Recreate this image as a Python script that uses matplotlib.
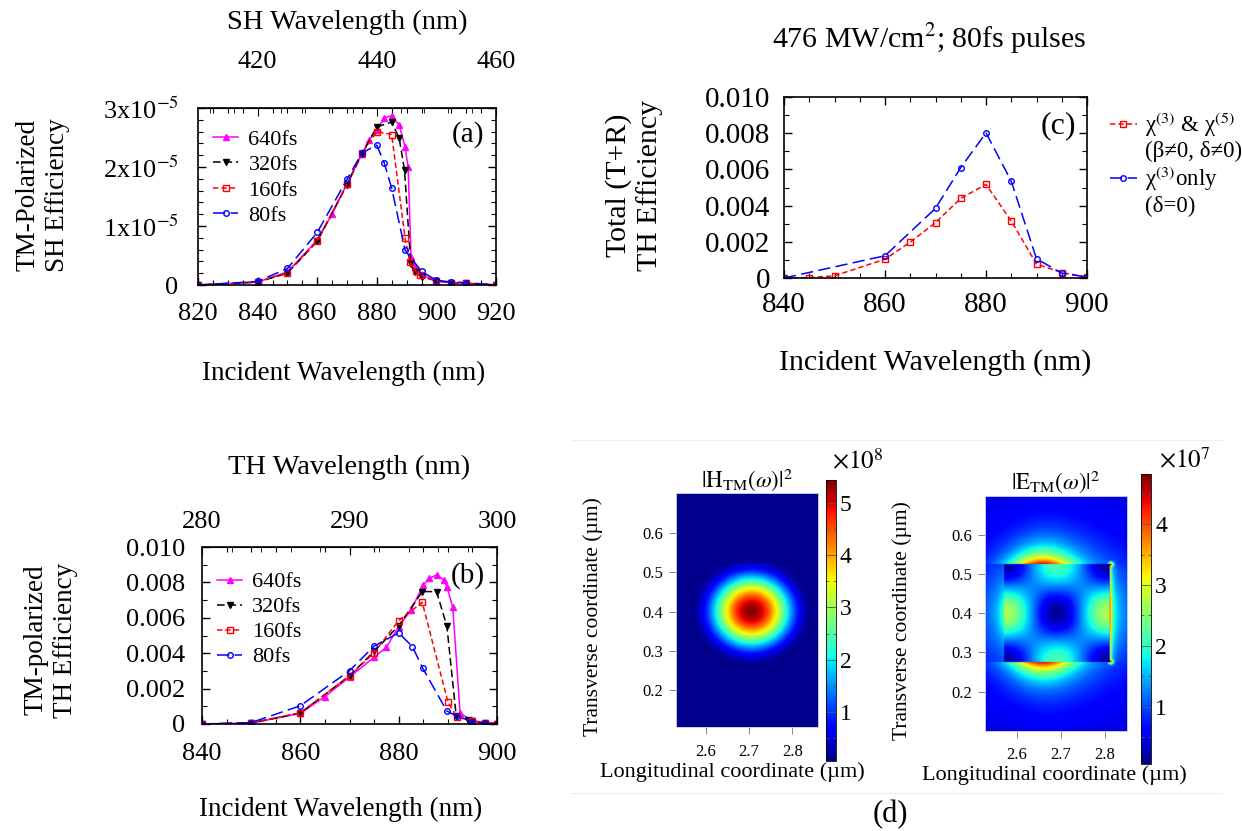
import numpy as np
import matplotlib
matplotlib.use("Agg")
import matplotlib.pyplot as plt
from matplotlib.ticker import MultipleLocator, FuncFormatter
from matplotlib.lines import Line2D

plt.rcParams['font.family'] = ['Liberation Serif', 'DejaVu Serif']
plt.rcParams['mathtext.fontset'] = 'stix'

W, H = 1242, 831

# ---------------- (a) TM-polarized SH efficiency (units of 1e-5)
sh_wl_640 = [820, 840, 850, 860, 865, 870, 875, 877.5, 880, 882.5, 885, 887.5, 889.5,
             890.5, 891.5, 892.8, 895, 900, 905, 910, 920]
sh_640 = [0.0, 0.05, 0.22, 0.76, 1.2, 1.72, 2.22, 2.46, 2.63, 2.83, 2.87, 2.71, 2.34,
          2.0, 0.48, 0.31, 0.17, 0.07, 0.04, 0.03, 0.0]
sh_wl_320 = [820, 840, 850, 860, 870, 875, 880, 885, 887.5, 889.3, 891.4, 892.8, 895,
             900, 905, 910, 920]
sh_320 = [0.0, 0.05, 0.2, 0.74, 1.7, 2.22, 2.68, 2.76, 2.49, 1.95, 0.35, 0.22, 0.14,
          0.07, 0.04, 0.03, 0.0]
sh_wl_160 = [820, 840, 850, 860, 870, 875, 880, 885, 889.5, 891.1, 893.2, 894.5, 900,
             905, 910, 920]
sh_160 = [0.0, 0.05, 0.21, 0.75, 1.71, 2.23, 2.6, 2.55, 0.79, 0.39, 0.23, 0.17, 0.07,
          0.04, 0.03, 0.0]
sh_wl_80 = [820, 840, 850, 860, 870, 875, 880, 882.5, 885, 889.5, 895, 900, 905, 910, 920]
sh_80 = [0.0, 0.06, 0.28, 0.89, 1.79, 2.24, 2.37, 2.07, 1.64, 0.59, 0.23, 0.08, 0.05,
         0.04, 0.0]

# ---------------- (b) TM-polarized TH efficiency (units of 1e-3)
th_wl_640 = [840, 850, 860, 865, 870, 875, 877.5, 880, 882.5, 885, 886.2, 887.7, 889.2,
             889.8, 891, 892.5, 895, 897.5, 900]
th_640 = [0.0, 0.05, 0.6, 1.55, 2.65, 3.77, 4.33, 5.5, 6.44, 7.85, 8.23, 8.42, 8.14,
          7.76, 6.6, 0.6, 0.2, 0.08, 0.03]
th_wl_320 = [840, 850, 860, 870, 875, 880, 884.8, 887.7, 889.8, 891.7, 894, 895, 897.5, 900]
th_320 = [0.0, 0.05, 0.62, 2.72, 4.1, 5.55, 7.48, 7.48, 5.54, 0.47, 0.2, 0.15, 0.05, 0.02]
th_wl_160 = [840, 850, 860, 870, 875, 880, 884.8, 890, 891.8, 895, 897.5, 900]
th_160 = [0.0, 0.06, 0.64, 2.71, 4.03, 5.84, 6.87, 1.26, 0.4, 0.17, 0.06, 0.02]
th_wl_80 = [840, 850, 860, 870, 875, 880, 882.8, 884.9, 889.8, 891.8, 895, 897.5, 900]
th_80 = [0.0, 0.08, 1.03, 3.01, 4.4, 5.15, 4.37, 3.15, 0.73, 0.45, 0.13, 0.05, 0.0]

# ---------------- (c) total (T+R) TH efficiency, 476 MW/cm^2, 80 fs (units of 1e-3)
tot_wl_35 = [840, 845, 850, 860, 865, 870, 875, 880, 885, 890, 895, 900]
tot_35 = [0.0, 0.02, 0.12, 1.04, 1.98, 3.06, 4.4, 5.17, 3.15, 0.77, 0.3, 0.05]
tot_wl_3 = [840, 860, 870, 875, 880, 885, 890, 895, 900]
tot_3 = [0.0, 1.23, 3.85, 6.1, 8.02, 5.35, 1.06, 0.27, 0.05]

pulse_labels = ['640fs', '320fs', '160fs', '80fs']

# ---------------- (d) field maps: resonator geometry and peak levels
h_center = (2.705, 0.40)     # um
h_width = 0.28               # um, cos^2 mode width
h_peak, h_floor = 5.3, 0.12  # x1e8
h_extent = (2.531, 2.860, 0.106, 0.703)
h_range = (0.05, 5.45)

rect_x = (2.57, 2.81)        # um, scatterer edges
rect_y = (0.275, 0.525)
e_side, e_cap = 2.6, 2.0     # x1e7, lobe levels along x / y edges
e_extent = (2.527, 2.851, 0.10, 0.70)
e_range = (0.05, 4.82)


def rect(l, t, r, b):
    return [l / W, 1 - b / H, (r - l) / W, (b - t) / H]


def style_axes(ax, size=19):
    for s in ax.spines.values():
        s.set_linewidth(1.2)
    ax.tick_params(which='both', direction='in', right=True, top=True, labelsize=size)
    ax.tick_params(which='major', length=6, width=1.0)
    ax.tick_params(which='minor', length=3.5, width=0.8)


def eff_fmt(v, pos):
    return '0' if abs(v) < 1e-12 else f'{v:.3f}'


def sh_fmt(v, pos):
    k = int(round(v / 1e-5))
    return '0' if k == 0 else f'{k}x10$^{{-5}}$'


series_styles = [
    dict(color='magenta', ls='-', marker='^', ms=5, mfc='magenta', mec='magenta'),
    dict(color='black', dashes=(5, 2.5), marker='v', ms=4.5, mfc='black', mec='black'),
    dict(color='red', dashes=(3.5, 2), marker='s', ms=4.5, mfc='none', mec='red'),
    dict(color='blue', dashes=(8, 3.5), marker='o', ms=4, mfc='none', mec='blue'),
]

fig = plt.figure(figsize=(W / 100, H / 100), dpi=100)

# ================= (a)
ax_a = fig.add_axes(rect(198, 108, 496, 285))
for wl, val, lab, st in zip([sh_wl_640, sh_wl_320, sh_wl_160, sh_wl_80],
                            [sh_640, sh_320, sh_160, sh_80], pulse_labels, series_styles):
    ax_a.plot(wl, np.array(val) * 1e-5, lw=1.1, label=lab, **st)
ax_a.set_xlim(820, 920)
ax_a.set_ylim(0, 3e-5)
style_axes(ax_a)
ax_a.tick_params(top=False)
ax_a.xaxis.set_major_locator(MultipleLocator(20))
ax_a.xaxis.set_minor_locator(MultipleLocator(5))
ax_a.yaxis.set_major_locator(MultipleLocator(1e-5))
ax_a.yaxis.set_minor_locator(MultipleLocator(0.2e-5))
ax_a.yaxis.set_major_formatter(FuncFormatter(sh_fmt))
ax_a.tick_params(axis='x', pad=13)
ax_a.tick_params(axis='y', pad=14)
ax_a.set_xlabel('Incident Wavelength (nm)', fontsize=19.5)
ax_a.xaxis.set_label_coords(0.49, -0.43)
ax_a.set_ylabel('TM-Polarized\nSH Efficiency', fontsize=19.5, linespacing=1.25)
ax_a.yaxis.set_label_coords(-0.43, 0.51)
sec_a = ax_a.secondary_xaxis('top', functions=(lambda x: x / 2, lambda x: x * 2))
sec_a.xaxis.set_major_locator(MultipleLocator(20))
sec_a.xaxis.set_minor_locator(MultipleLocator(4))
sec_a.tick_params(which='both', direction='in', labelsize=19, pad=25)
sec_a.tick_params(which='major', length=6)
sec_a.tick_params(which='minor', length=3.5)
sec_a.set_xlabel('SH Wavelength (nm)', fontsize=20.5, labelpad=16)
ax_a.text(0.905, 0.85, '(a)', transform=ax_a.transAxes, ha='center', va='center', fontsize=21)
ax_a.legend(loc='upper left', bbox_to_anchor=(0.05, 0.88), frameon=False, fontsize=16,
            handlelength=1.15, handletextpad=0.45, labelspacing=0.22, borderpad=0,
            borderaxespad=0)

# ================= (b)
ax_b = fig.add_axes(rect(202, 547, 497, 724))
for wl, val, lab, st in zip([th_wl_640, th_wl_320, th_wl_160, th_wl_80],
                            [th_640, th_320, th_160, th_80], pulse_labels, series_styles):
    ax_b.plot(wl, np.array(val) * 1e-3, lw=1.1, label=lab, **st)
ax_b.set_xlim(840, 900)
ax_b.set_ylim(0, 0.010)
style_axes(ax_b)
ax_b.tick_params(top=False)
ax_b.xaxis.set_major_locator(MultipleLocator(20))
ax_b.xaxis.set_minor_locator(MultipleLocator(5))
ax_b.yaxis.set_major_locator(MultipleLocator(0.002))
ax_b.yaxis.set_minor_locator(MultipleLocator(0.001))
ax_b.yaxis.set_major_formatter(FuncFormatter(eff_fmt))
ax_b.tick_params(axis='x', pad=14)
ax_b.tick_params(axis='y', pad=12)
ax_b.set_xlabel('Incident Wavelength (nm)', fontsize=19.5)
ax_b.xaxis.set_label_coords(0.47, -0.41)
ax_b.set_ylabel('TM-polarized\nTH Efficiency', fontsize=19.5, linespacing=1.25)
ax_b.yaxis.set_label_coords(-0.42, 0.475)
sec_b = ax_b.secondary_xaxis('top', functions=(lambda x: x / 3, lambda x: x * 3))
sec_b.xaxis.set_major_locator(MultipleLocator(10))
sec_b.xaxis.set_minor_locator(MultipleLocator(2))
sec_b.tick_params(which='both', direction='in', labelsize=19, pad=10)
sec_b.tick_params(which='major', length=6)
sec_b.tick_params(which='minor', length=3.5)
sec_b.set_xlabel('TH Wavelength (nm)', fontsize=20.5, labelpad=27)
ax_b.text(0.90, 0.84, '(b)', transform=ax_b.transAxes, ha='center', va='center', fontsize=21)
ax_b.legend(loc='upper left', bbox_to_anchor=(0.05, 0.86), frameon=False, fontsize=16,
            handlelength=1.15, handletextpad=0.45, labelspacing=0.2, borderpad=0,
            borderaxespad=0)

# ================= (c)
ax_c = fig.add_axes(rect(784, 97, 1087, 278))
l35, = ax_c.plot(tot_wl_35, np.array(tot_35) * 1e-3, lw=1.1, color='red', dashes=(3.5, 2),
                 marker='s', ms=4.5, mfc='none', mec='red')
l3, = ax_c.plot(tot_wl_3, np.array(tot_3) * 1e-3, lw=1.1, color='blue', dashes=(8, 3.5),
                marker='o', ms=4, mfc='none', mec='blue')
ax_c.set_xlim(840, 900)
ax_c.set_ylim(0, 0.010)
style_axes(ax_c, size=21)
ax_c.xaxis.set_major_locator(MultipleLocator(20))
ax_c.xaxis.set_minor_locator(MultipleLocator(5))
ax_c.yaxis.set_major_locator(MultipleLocator(0.002))
ax_c.yaxis.set_minor_locator(MultipleLocator(0.001))
ax_c.yaxis.set_major_formatter(FuncFormatter(eff_fmt))
ax_c.tick_params(axis='x', pad=10)
ax_c.tick_params(axis='y', pad=10)
ax_c.set_xlabel('Incident Wavelength (nm)', fontsize=21.5)
ax_c.xaxis.set_label_coords(0.5, -0.39)
ax_c.set_ylabel('Total (T+R)\nTH Efficiency', fontsize=21.5, linespacing=1.2)
ax_c.yaxis.set_label_coords(-0.40, 0.51)
ax_c.set_title('476 MW/cm$^2$; 80fs pulses', fontsize=21.5, pad=35, x=0.48)
ax_c.text(0.907, 0.84, '(c)', transform=ax_c.transAxes, ha='center', va='center', fontsize=23)
blank = Line2D([], [], ls='none')
ax_c.legend([l35, blank, l3, blank],
            ['χ$^{(3)}$ & χ$^{(5)}$', '(β≠0, δ≠0)', 'χ$^{(3)}$only', '(δ=0)'],
            loc='upper left', bbox_to_anchor=(1.075, 0.93), frameon=False, fontsize=16.5,
            handlelength=1.2, handletextpad=0.35, labelspacing=0.1, borderpad=0,
            borderaxespad=0)

# ================= (d) field maps
def map_axes(ax, extent):
    ax.set_xlim(extent[0], extent[1])
    ax.set_ylim(extent[2], extent[3])
    ax.set_xticks([2.6, 2.7, 2.8])
    ax.set_yticks([0.2, 0.3, 0.4, 0.5, 0.6])
    ax.tick_params(labelsize=12, length=5, width=0.6, color='0.45')
    ax.tick_params(axis='x', pad=7)
    ax.tick_params(axis='y', pad=4)
    for s in ax.spines.values():
        s.set_color('#c5cde0')
        s.set_linewidth(0.7)
    ax.set_ylabel('Transverse coordinate (µm)', fontsize=15.5)
    ax.yaxis.set_label_coords(-0.51, 0.47)
    ax.set_xlabel('Longitudinal coordinate (µm)', fontsize=16)


def map_colorbar(im, cax, ticks, exp_txt, xy):
    cb = fig.colorbar(im, cax=cax)
    cb.set_ticks(ticks)
    cb.ax.yaxis.set_minor_locator(MultipleLocator(0.5))
    cb.ax.tick_params(which='both', direction='in', left=True, right=True, width=0.6,
                      color='0.35', labelsize=17, pad=3)
    cb.ax.tick_params(which='major', length=4)
    cb.ax.tick_params(which='minor', length=2.5)
    cb.outline.set_linewidth(0.6)
    fig.text(xy[0] / W, 1 - xy[1] / H, exp_txt, ha='center', va='center', fontsize=18)


# |H|^2: round cos^2 mode centred in the scatterer
hx = np.linspace(h_extent[0], h_extent[1], 500)
hy = np.linspace(h_extent[2], h_extent[3], 900)
HX, HY = np.meshgrid(hx, hy)
rh = np.hypot(HX - h_center[0], HY - h_center[1]) / h_width
mode = np.where(rh < 0.5, np.cos(np.pi * rh) ** 2, 0.0)
h_map = h_floor + h_peak * mode

ax_h = fig.add_axes(rect(675.7, 492.7, 818.3, 727.3))
im_h = ax_h.imshow(h_map, extent=h_extent, origin='lower', cmap='jet', aspect='auto',
                   vmin=h_range[0], vmax=h_range[1], interpolation='bilinear')
map_axes(ax_h, h_extent)
ax_h.xaxis.set_label_coords(0.4, -0.15)
ax_h.set_title(r'$|\mathrm{H}_{\mathrm{TM}}(\omega)|^2$', fontsize=16.5, pad=3)
cax_h = fig.add_axes(rect(825.7, 480, 835.7, 761))
map_colorbar(im_h, cax_h, [1, 2, 3, 4, 5], r'$\times10^8$', (858, 462))

# |E|^2: derivative lobes inside the scatterer plus the surrounding near field
ex = np.linspace(e_extent[0], e_extent[1], 500)
ey = np.linspace(e_extent[2], e_extent[3], 900)
EX, EY = np.meshgrid(ex, ey)
xc, yc = np.mean(rect_x), np.mean(rect_y)
a, b = rect_x[1] - rect_x[0], rect_y[1] - rect_y[0]
uu, vv = (EX - xc) / a, (EY - yc) / b
inside = (np.abs(uu) <= 0.5) & (np.abs(vv) <= 0.5)
e_in = (0.15 + e_side * np.sin(np.pi * uu) ** 2 * np.cos(np.pi * vv) ** 2
        + e_cap * np.cos(np.pi * uu) ** 2 * np.sin(np.pi * vv) ** 2)
R = np.hypot(EX - xc, EY - yc)
e_out = 0.45 + 1.5 * np.exp(-R ** 2 / (2 * 0.12 ** 2))
band = np.exp(-((EX - 2.655) / 0.065) ** 2)
wide = np.exp(-((EX - 2.665) / 0.085) ** 2)
dtop, dbot = EY - rect_y[1], rect_y[0] - EY
e_out += np.where(dtop > 0, 2.4 * np.exp(-dtop / 0.028) * band
                  + 0.8 * np.exp(-dtop / 0.05) * wide, 0)
e_out += np.where(dbot > 0, 2.4 * np.exp(-dbot / 0.028) * band
                  + 0.8 * np.exp(-dbot / 0.05) * wide, 0)
side = np.abs(vv) <= 0.5
e_out += np.where((EX > rect_x[1]) & side, 2.0 * np.exp(-(EX - rect_x[1]) / 0.004)
                  + 0.9 * np.exp(-(EX - rect_x[1]) / 0.02) * np.exp(-((EY - yc) / 0.1) ** 2), 0)
e_out += np.where(EX < rect_x[0],
                  0.9 * np.exp(-(rect_x[0] - EX) / 0.015) * np.exp(-((EY - yc) / 0.06) ** 2), 0)
for cy in rect_y:
    e_out += 2.4 * np.exp(-((EX - rect_x[1] - 0.003) ** 2 + (EY - cy) ** 2) / (2 * 0.004 ** 2))
e_map = np.where(inside, e_in, e_out)

ax_e = fig.add_axes(rect(985, 495.7, 1127.3, 730.7))
im_e = ax_e.imshow(e_map, extent=e_extent, origin='lower', cmap='jet', aspect='auto',
                   vmin=e_range[0], vmax=e_range[1], interpolation='bilinear')
map_axes(ax_e, e_extent)
ax_e.xaxis.set_label_coords(0.49, -0.145)
ax_e.set_title(r'$|\mathrm{E}_{\mathrm{TM}}(\omega)|^2$', fontsize=16.5, pad=5)
cax_e = fig.add_axes(rect(1141, 474.3, 1151, 764.3))
map_colorbar(im_e, cax_e, [1, 2, 3, 4], r'$\times10^7$', (1185, 461))

# thin frame around the map panel and its label
for yy in (440, 793):
    fig.add_artist(Line2D([571 / W, 1222 / W], [1 - yy / H] * 2, color='0.93', lw=0.8))
fig.text(890 / W, 1 - 815 / H, '(d)', ha='center', va='center', fontsize=22)

fig.savefig('out.png', dpi=100)
